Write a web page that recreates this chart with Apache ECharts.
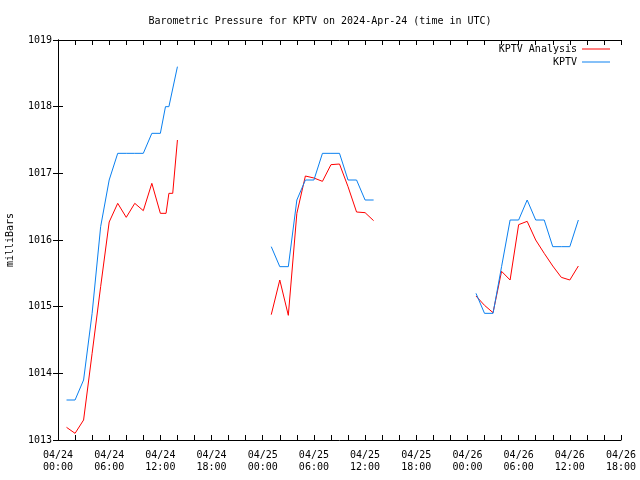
<!DOCTYPE html>
<html>
<head>
<meta charset="utf-8">
<script src="https://cdn.jsdelivr.net/npm/echarts@6/dist/echarts.min.js"></script>
<style>html,body{margin:0;padding:0;background:#fff}#c{width:640px;height:480px}</style>
</head>
<body>
<div id="c"></div>
<script>
// Times in UTC, null marks a data gap
var analysisTimes = [
  '2024-04-24T01:00Z','2024-04-24T02:00Z','2024-04-24T03:00Z','2024-04-24T04:00Z','2024-04-24T05:00Z',
  '2024-04-24T06:00Z','2024-04-24T07:00Z','2024-04-24T08:00Z','2024-04-24T09:00Z','2024-04-24T10:00Z',
  '2024-04-24T11:00Z','2024-04-24T12:00Z','2024-04-24T12:40Z','2024-04-24T13:00Z','2024-04-24T13:27Z',
  '2024-04-24T14:00Z', null,
  '2024-04-25T01:00Z','2024-04-25T02:00Z','2024-04-25T03:00Z','2024-04-25T04:00Z','2024-04-25T05:00Z',
  '2024-04-25T06:00Z','2024-04-25T07:00Z','2024-04-25T08:00Z','2024-04-25T09:00Z','2024-04-25T10:00Z',
  '2024-04-25T11:00Z','2024-04-25T12:00Z','2024-04-25T13:00Z', null,
  '2024-04-26T01:00Z','2024-04-26T02:00Z','2024-04-26T03:00Z','2024-04-26T04:00Z','2024-04-26T05:00Z',
  '2024-04-26T06:00Z','2024-04-26T07:00Z','2024-04-26T08:00Z','2024-04-26T09:00Z','2024-04-26T10:00Z',
  '2024-04-26T11:00Z','2024-04-26T12:00Z','2024-04-26T13:00Z'
];
var analysisValues = [
  1013.19,1013.1,1013.3,1014.3,1015.3,
  1016.27,1016.55,1016.34,1016.55,1016.44,
  1016.85,1016.4,1016.4,1016.7,1016.7,
  1017.5, null,
  1014.88,1015.4,1014.87,1016.4,1016.96,
  1016.93,1016.88,1017.13,1017.14,1016.8,
  1016.42,1016.41,1016.29, null,
  1015.16,1015.02,1014.91,1015.53,1015.4,
  1016.23,1016.28,1016.0,1015.8,1015.61,
  1015.44,1015.4,1015.61
];
var kptvTimes = [
  '2024-04-24T01:00Z','2024-04-24T02:00Z','2024-04-24T03:00Z','2024-04-24T04:00Z','2024-04-24T05:00Z',
  '2024-04-24T06:00Z','2024-04-24T07:00Z','2024-04-24T08:00Z','2024-04-24T09:00Z','2024-04-24T10:00Z',
  '2024-04-24T11:00Z','2024-04-24T12:00Z','2024-04-24T12:36Z','2024-04-24T13:00Z','2024-04-24T14:00Z', null,
  '2024-04-25T01:00Z','2024-04-25T02:00Z','2024-04-25T03:00Z','2024-04-25T04:00Z','2024-04-25T05:00Z',
  '2024-04-25T06:00Z','2024-04-25T07:00Z','2024-04-25T08:00Z','2024-04-25T09:00Z','2024-04-25T10:00Z',
  '2024-04-25T11:00Z','2024-04-25T12:00Z','2024-04-25T13:00Z', null,
  '2024-04-26T01:00Z','2024-04-26T02:00Z','2024-04-26T03:00Z','2024-04-26T04:00Z','2024-04-26T05:00Z',
  '2024-04-26T06:00Z','2024-04-26T07:00Z','2024-04-26T08:00Z','2024-04-26T09:00Z','2024-04-26T10:00Z',
  '2024-04-26T11:00Z','2024-04-26T12:00Z','2024-04-26T13:00Z'
];
var kptvValues = [
  1013.6,1013.6,1013.9,1014.9,1016.2,
  1016.9,1017.3,1017.3,1017.3,1017.3,
  1017.6,1017.6,1018.0,1018.0,1018.6, null,
  1015.9,1015.6,1015.6,1016.6,1016.9,
  1016.9,1017.3,1017.3,1017.3,1016.9,
  1016.9,1016.6,1016.6, null,
  1015.2,1014.9,1014.9,1015.6,1016.3,
  1016.3,1016.6,1016.3,1016.3,1015.9,
  1015.9,1015.9,1016.3
];
var seriesNames = ['KPTV Analysis', 'KPTV'];
var xTickDays = ['04/24', '04/25', '04/26', '04/27'];

var origin = Date.parse('2024-04-24T00:00Z');
function toPairs(times, vals) {
  return times.map(function (t, i) {
    if (t === null || vals[i] === null) return [null, null];
    return [(Date.parse(t) - origin) / 3600000, vals[i]];
  });
}
function pad(n) { return (n < 10 ? '0' : '') + n; }

var font = 'DejaVu Sans Mono';
var tick = { show: true, inside: true, length: 5, lineStyle: { color: '#000', width: 1 } };
var line = { show: true, lineStyle: { color: '#000', width: 1 } };

var chart = echarts.init(document.getElementById('c'));
chart.setOption({
  animation: false,
  backgroundColor: '#fff',
  title: {
    text: 'Barometric Pressure for KPTV on 2024-Apr-24 (time in UTC)',
    left: 'center', top: 11,
    textStyle: { fontFamily: font, fontSize: 10, fontWeight: 'normal', color: '#000' }
  },
  legend: {
    orient: 'vertical', right: 30, top: 43, align: 'right', padding: 0,
    itemWidth: 28, itemHeight: 1, itemGap: 1, icon: 'rect',
    textStyle: { fontFamily: font, fontSize: 10, color: '#000', lineHeight: 12 },
    data: seriesNames
  },
  grid: { left: 58, right: 19, top: 40, bottom: 40, containLabel: false, outerBoundsMode: 'none' },
  xAxis: [{
    type: 'value', min: 0, max: 66, interval: 2,
    axisLine: line, axisTick: tick, splitLine: { show: false },
    axisLabel: {
      fontFamily: font, fontSize: 10, color: '#000', margin: 9, lineHeight: 12,
      formatter: function (v) {
        if (v % 6 !== 0) return '';
        return xTickDays[Math.floor(v / 24)] + '\n' + pad(v % 24) + ':00';
      }
    }
  }, {
    type: 'value', min: 0, max: 66, interval: 2, position: 'top',
    axisLine: line, axisTick: tick, axisLabel: { show: false }, splitLine: { show: false }
  }],
  yAxis: [{
    type: 'value', min: 1013, max: 1019, interval: 1,
    name: 'milliBars', nameLocation: 'middle', nameRotate: 90, nameGap: 43,
    nameTextStyle: { fontFamily: font, fontSize: 10, color: '#000' },
    axisLine: line, axisTick: tick, splitLine: { show: false },
    axisLabel: { fontFamily: font, fontSize: 10, color: '#000', margin: 6,
      formatter: function (v) { return String(v); } }
  }, {
    type: 'value', min: 1013, max: 1019, interval: 1, position: 'right',
    axisLine: line, axisTick: tick, axisLabel: { show: false }, splitLine: { show: false }
  }],
  series: [{
    name: seriesNames[0], type: 'line', showSymbol: false, symbol: 'none',
    connectNulls: false, color: '#ff0000',
    lineStyle: { width: 1, color: '#ff0000' },
    data: toPairs(analysisTimes, analysisValues)
  }, {
    name: seriesNames[1], type: 'line', showSymbol: false, symbol: 'none',
    connectNulls: false, color: '#0a80f0',
    lineStyle: { width: 1, color: '#0a80f0' },
    data: toPairs(kptvTimes, kptvValues)
  }]
});
</script>
</body>
</html>
